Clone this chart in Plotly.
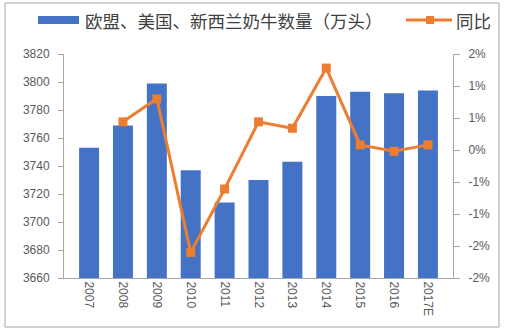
import plotly.graph_objects as go

years = ["2007", "2008", "2009", "2010", "2011", "2012", "2013", "2014", "2015", "2016", "2017E"]
cows = [3753, 3769, 3799, 3737, 3714, 3730, 3743, 3790, 3793, 3792, 3794]
yoy = [None, 0.0044, 0.0080, -0.0160, -0.0061, 0.0044, 0.0034, 0.0128, 0.0008, -0.0002, 0.0008]

bar_name = "欧盟、美国、新西兰奶牛数量（万头）"
line_name = "同比"

left_ticks = [3660, 3680, 3700, 3720, 3740, 3760, 3780, 3800, 3820]
right_tickvals = [-0.02, -0.015, -0.01, -0.005, 0.0, 0.005, 0.01, 0.015]
right_ticktext = ["-2%", "-2%", "-1%", "-1%", "0%", "1%", "1%", "2%"]

BLUE = "#4472C4"
ORANGE = "#ED7D31"
GRAY = "#595959"
AXIS = "#A6A6A6"

W, H = 507, 331
L, R, T, B = 64, 54, 54, 53
PW, PH = W - L - R, H - T - B


def px(x):
    return (x - L) / PW


def py(y):
    return (H - B - y) / PH


fig = go.Figure()
fig.add_trace(go.Bar(x=years, y=cows, name=bar_name, marker_color=BLUE,
                     marker_line_width=0, yaxis="y"))
fig.add_trace(go.Scatter(x=years, y=yoy, name=line_name, mode="lines+markers",
                         line=dict(color=ORANGE, width=3),
                         marker=dict(symbol="square", size=9, color=ORANGE),
                         yaxis="y2", connectgaps=False))

tickfont = dict(family="Liberation Sans, Arial, sans-serif", size=12, color=GRAY)

fig.update_layout(
    width=W, height=H,
    margin=dict(l=L, r=R, t=T, b=B),
    paper_bgcolor="white", plot_bgcolor="white",
    showlegend=False,
    bargap=0.41,
    xaxis=dict(type="category", tickangle=90, tickfont=tickfont,
               showline=True, linecolor=AXIS, linewidth=1, ticks="",
               showgrid=False, zeroline=False),
    yaxis=dict(range=[3660, 3820], tickvals=left_ticks, tickfont=tickfont,
               showline=True, linecolor=AXIS, linewidth=1, ticks="outside",
               ticklen=5, tickcolor=AXIS, showgrid=False, zeroline=False,
               ticklabelstandoff=6),
    yaxis2=dict(range=[-0.02, 0.015], tickvals=right_tickvals, ticktext=right_ticktext,
                tickfont=tickfont, overlaying="y", side="right",
                showline=True, linecolor=AXIS, linewidth=1, ticks="outside",
                ticklen=6, tickcolor=AXIS, showgrid=False, zeroline=False,
                ticklabelstandoff=6),
)

shapes = [
    # outer border
    dict(type="rect", xref="paper", yref="paper", x0=px(5), x1=px(499), y0=py(327), y1=py(3),
         line=dict(color="#A6A6A6", width=1), fillcolor="rgba(0,0,0,0)", layer="below"),
    # legend swatches
    dict(type="rect", xref="paper", yref="paper", x0=px(38), x1=px(79), y0=py(24), y1=py(16),
         line=dict(width=0), fillcolor=BLUE),
    dict(type="line", xref="paper", yref="paper", x0=px(406), x1=px(452), y0=py(20), y1=py(20),
         line=dict(color=ORANGE, width=3)),
    dict(type="rect", xref="paper", yref="paper", x0=px(426), x1=px(434), y0=py(24), y1=py(16),
         line=dict(width=0), fillcolor=ORANGE),
]
legfont = dict(family="Noto Sans CJK SC, sans-serif", size=17.5, color="#404040")
annotations = [
    dict(text=bar_name, xref="paper", yref="paper", x=px(83), y=py(20), xanchor="left",
         yanchor="middle", showarrow=False, font=legfont),
    dict(text=line_name, xref="paper", yref="paper", x=px(454), y=py(20), xanchor="left",
         yanchor="middle", showarrow=False, font=legfont),
]
fig.update_layout(shapes=shapes, annotations=annotations)

fig.write_html("out.html")
